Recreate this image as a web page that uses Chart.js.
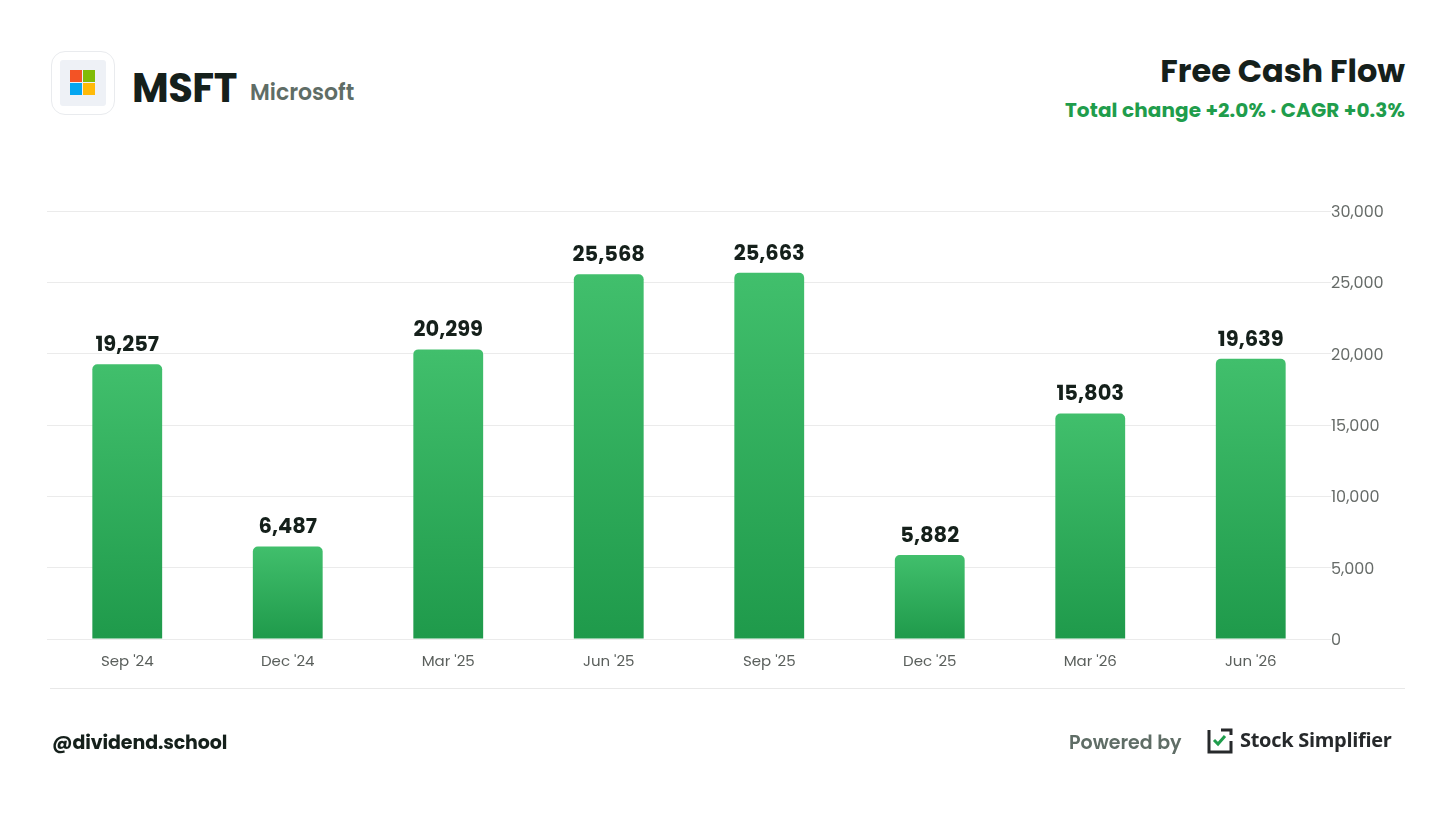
<!DOCTYPE html>
<html>
<head>
<meta charset="utf-8">
<script src="https://cdn.jsdelivr.net/npm/chart.js@4.4.1/dist/chart.umd.min.js"></script>
<style>
  html, body { margin: 0; padding: 0; background: #fff; }
  body { width: 1456px; height: 819px; position: relative; overflow: hidden; font-family: Poppins, Inter, sans-serif; }
  .abs { position: absolute; }
  .logo { left: 51px; top: 51px; width: 62px; height: 62px; border: 1px solid #e9ebee; border-radius: 14px; background: #fff; }
  .logo .inner { position: absolute; left: 8px; top: 8px; width: 46px; height: 46px; background: #eef1f6; border-radius: 3px; }
  .sq { position: absolute; width: 12px; height: 12px; }
  .ticker { left: 132px; top: 58px; font-size: 40px; font-weight: 700; color: #15201b; letter-spacing: -0.5px; }
  .company { left: 250px; top: 76px; font-size: 22px; font-weight: 600; color: #5f6d66; }
  .title { right: 51px; top: 47px; font-size: 32px; font-weight: 700; color: #15201b; text-align: right; }
  .sub { right: 51px; top: 95px; font-size: 20px; font-weight: 700; color: #1f9d4c; text-align: right; letter-spacing: 0.1px; }
  .sep { left: 50px; top: 688px; width: 1355px; height: 1px; background: #e8e8e8; }
  .handle { left: 52px; top: 728px; font-size: 19px; font-weight: 700; color: #15201b; letter-spacing: -0.1px; }
  .powered { left: 1069px; top: 728px; font-size: 19px; font-weight: 600; color: #5f6d66; }
  .brand { left: 1240px; top: 726px; font-size: 20px; font-weight: 700; color: #26292b; font-family: "Open Sans", sans-serif; letter-spacing: -0.3px; }
  .brandicon { left: 1207px; top: 728px; }
  #wrap { position: absolute; left: 0; top: 0; width: 1456px; height: 819px; }
</style>
</head>
<body>
<div class="abs logo"><div class="inner">
  <div class="sq" style="left:10px;top:10px;background:#f35325"></div>
  <div class="sq" style="left:23px;top:10px;background:#81bc06"></div>
  <div class="sq" style="left:10px;top:23px;background:#05a6f0"></div>
  <div class="sq" style="left:23px;top:23px;background:#ffba08"></div>
</div></div>
<div class="abs ticker">MSFT</div>
<div class="abs company">Microsoft</div>
<div class="abs title">Free Cash Flow</div>
<div class="abs sub">Total change +2.0% · CAGR +0.3%</div>

<div id="wrap"><canvas id="fcf"></canvas></div>

<div class="abs sep"></div>
<div class="abs handle">@dividend.school</div>
<div class="abs powered">Powered by</div>
<svg class="abs brandicon" width="26" height="26" viewBox="0 0 26 26">
  <path d="M2 2 V24 H24 V13" fill="none" stroke="#26292b" stroke-width="3"/>
  <path d="M14 2 H24 V7" fill="none" stroke="#26292b" stroke-width="3"/>
  <path d="M7 12 L11 16 L18 8" fill="none" stroke="#1f9d4c" stroke-width="3"/>
</svg>
<div class="abs brand">Stock Simplifier</div>

<script>
const periods = ["Sep '24", "Dec '24", "Mar '25", "Jun '25", "Sep '25", "Dec '25", "Mar '26", "Jun '26"];
const freeCashFlow = [19257, 6487, 20299, 25568, 25663, 5882, 15803, 19639];
const yTicks = [0, 5000, 10000, 15000, 20000, 25000, 30000];

const fmt = v => v.toLocaleString('en-US');

// draws the value above each bar
const valueLabels = {
  id: 'valueLabels',
  afterDatasetsDraw(chart) {
    const ctx = chart.ctx;
    const meta = chart.getDatasetMeta(0);
    ctx.save();
    ctx.font = '700 21px Poppins, Inter, sans-serif';
    ctx.fillStyle = '#15201b';
    ctx.textAlign = 'center';
    ctx.textBaseline = 'bottom';
    meta.data.forEach((bar, i) => {
      ctx.fillText(fmt(freeCashFlow[i]), bar.x, bar.y - 8);
    });
    ctx.restore();
  }
};

new Chart(document.getElementById('fcf'), {
  type: 'bar',
  data: {
    labels: periods,
    datasets: [{
      data: freeCashFlow,
      backgroundColor: (c) => {
        const area = c.chart.chartArea;
        if (!area) return '#2aa857';
        const y = c.chart.scales.y;
        const top = y.getPixelForValue(c.raw);
        const g = c.chart.ctx.createLinearGradient(0, top, 0, y.getPixelForValue(0));
        g.addColorStop(0, '#41bf6c');
        g.addColorStop(1, '#1f9a4b');
        return g;
      },
      borderRadius: { topLeft: 5, topRight: 5, bottomLeft: 0, bottomRight: 0 },
      borderSkipped: 'bottom',
      barPercentage: 0.435,
      categoryPercentage: 1
    }]
  },
  options: {
    responsive: true,
    maintainAspectRatio: false,
    animation: false,
    layout: { padding: { left: 47, top: 211, right: 0, bottom: 0 } },
    plugins: { legend: { display: false }, tooltip: { enabled: false } },
    scales: {
      x: {
        grid: { display: false },
        border: { display: false },
        ticks: { color: '#5a5f5c', font: { size: 15, family: 'Poppins, Inter, sans-serif' }, padding: 6 },
        afterFit: s => { s.height = 180; }
      },
      y: {
        position: 'right',
        min: 0,
        max: 30000,
        afterBuildTicks: s => { s.ticks = yTicks.map(v => ({ value: v })); },
        grid: { color: '#ebebeb', drawTicks: false },
        border: { display: false },
        ticks: {
          color: '#666b68',
          font: { size: 16, family: 'Poppins, Inter, sans-serif' },
          padding: 0,
          labelOffset: 2,
          callback: v => fmt(v)
        },
        afterFit: s => { s.width = 125; }
      }
    }
  },
  plugins: [valueLabels]
});
</script>
</body>
</html>
